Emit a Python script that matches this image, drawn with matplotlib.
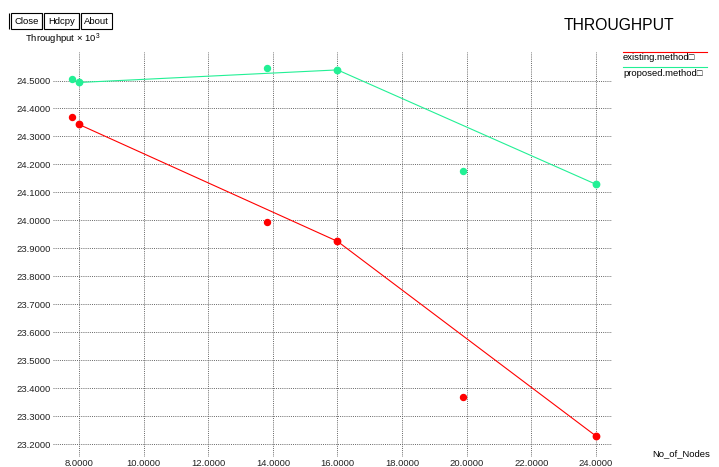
import matplotlib.pyplot as plt
from matplotlib.patches import Rectangle

# data
nodes_line = [8, 16, 24]
existing_line = [24.343, 23.925, 23.229]
proposed_line = [24.493, 24.538, 24.129]

nodes_extra = [7.78, 13.83, 19.88]
existing_extra = [24.371, 23.993, 23.368]
proposed_extra = [24.504, 24.546, 24.175]

xticks = [8, 10, 12, 14, 16, 18, 20, 22, 24]
yticks = [23.2, 23.3, 23.4, 23.5, 23.6, 23.7, 23.8, 23.9, 24.0,
          24.1, 24.2, 24.3, 24.4, 24.5]

red = '#ff0000'
green = '#22f095'
W, H = 719, 467
fs = 6.8

plt.rcParams['font.family'] = ['Liberation Sans', 'DejaVu Sans']
plt.rcParams['mathtext.fontset'] = 'custom'
plt.rcParams['mathtext.rm'] = 'Liberation Sans'

fig = plt.figure(figsize=(W / 100, H / 100), dpi=100)
fig.patch.set_facecolor('white')

# plot area in pixels: x 53..612, y 52..457
ax = fig.add_axes([53 / W, 1 - 457 / H, (612 - 53) / W, (457 - 52) / H])
ax.set_xlim(7.195, 24.496)
ax.set_ylim(23.154, 24.602)
for s in ax.spines.values():
    s.set_visible(False)
ax.set_xticks(xticks)
ax.set_yticks(yticks)
ax.set_xticklabels(['%.4f' % v for v in xticks], fontsize=fs)
ax.set_yticklabels(['%.4f' % v for v in yticks], fontsize=fs)
ax.tick_params(length=0, pad=1.5, colors='#222222')
ax.grid(True, linestyle=(0, (1, 1.2)), color='#666666', linewidth=0.7)
ax.set_axisbelow(True)

# connected points
ax.plot(nodes_line, existing_line, color=red, lw=0.8, marker='o', ms=4.6)
ax.plot(nodes_line, proposed_line, color=green, lw=0.8, marker='o', ms=4.6)
# separate points
ax.plot(nodes_extra, existing_extra, ls='none', color=red, marker='o', ms=4.3)
ax.plot(nodes_extra, proposed_extra, ls='none', color=green, marker='o', ms=4.3)


def px(x, y):
    return x / W, 1 - y / H


# buttons
for x0, x1, lab in [(11, 42, 'Close'), (44, 79, 'Hdcpy'), (81, 112, 'About')]:
    fig.patches.append(Rectangle(px(x0, 29), (x1 - x0) / W, 16 / H,
                                 transform=fig.transFigure, fill=False,
                                 edgecolor='black', lw=0.8))
    fig.patches.append(Rectangle(px(x0 - 2, 29), 0, 16 / H,
                                 transform=fig.transFigure, fill=False,
                                 edgecolor='black', lw=0.8))
    fig.text(*px((x0 + x1) / 2, 21), lab, fontsize=fs, ha='center', va='center')

fig.text(*px(25, 39), 'Throughput \u00d7 10$^3$', fontsize=fs, ha='left', va='center')

fig.text(*px(564, 26), 'THROUGHPUT', fontsize=11.3, ha='left', va='center')
fig.text(*px(652, 454), 'No_of_Nodes', fontsize=fs, ha='left', va='center')

# legend
fig.lines.append(plt.Line2D([623 / W, 707 / W], [1 - 52 / H, 1 - 52 / H],
                            transform=fig.transFigure, color=red, lw=0.8))
fig.text(*px(623, 58), 'existing.method\u25a1', fontsize=fs, ha='left', va='center')
fig.lines.append(plt.Line2D([623 / W, 707 / W], [1 - 67 / H, 1 - 67 / H],
                            transform=fig.transFigure, color=green, lw=0.8))
fig.text(*px(623, 73), 'proposed.method\u25a1', fontsize=fs, ha='left', va='center')

fig.savefig('out.png', dpi=100)
